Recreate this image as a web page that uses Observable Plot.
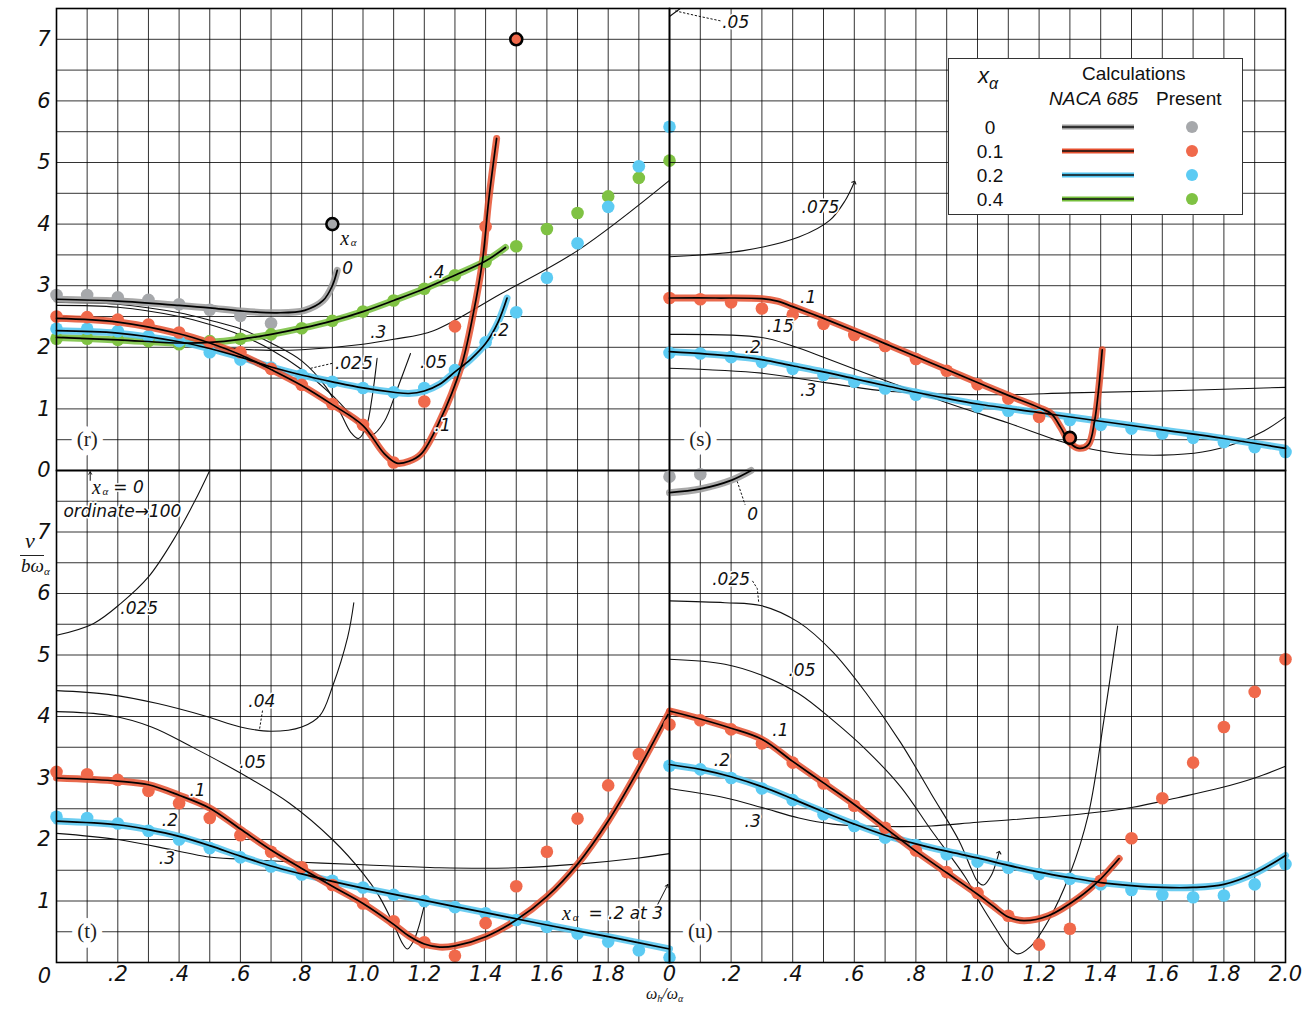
<!DOCTYPE html>
<html><head><meta charset="utf-8">
<script src="https://cdn.jsdelivr.net/npm/d3@7"></script>
<script src="https://cdn.jsdelivr.net/npm/@observablehq/plot@0.6"></script>
<style>
body{margin:0;background:#fff;}
#wrap{position:relative;width:1313px;height:1009px;overflow:hidden;background:#fff;font-family:"Liberation Sans",Arial,sans-serif;color:#111;}
#wrap svg{position:absolute;overflow:visible;}
.it{position:absolute;font-family:"DejaVu Sans",sans-serif;font-style:italic;font-weight:200;color:#111;white-space:nowrap;}
#legend{position:absolute;left:948px;top:58px;width:293px;height:155px;border:1.5px solid #333;background:#fff;}
#legend div{position:absolute;white-space:nowrap;font-size:19px;}
</style></head><body><div id="wrap"></div>
<script>
// ---------------- data ----------------
// x grid / tick values
const gridXs = [0,0.1,0.2,0.3,0.4,0.5,0.6,0.7,0.8,0.9,1.0,1.1,1.2,1.3,1.4,1.5,1.6,1.7,1.8,1.9,2.0];
const gridYsTop = [0,0.5,1,1.5,2,2.5,3,3.5,4,4.5,5,5.5,6,6.5,7,7.5];
const gridYsBot = [0,0.5,1,1.5,2,2.5,3,3.5,4,4.5,5,5.5,6,6.5,7,7.5,8];
const xTicksLeft = [0.2,0.4,0.6,0.8,1.0,1.2,1.4,1.6,1.8];
const xTickLabelsLeft = [".2",".4",".6",".8","1.0","1.2","1.4","1.6","1.8"];
const xTicksRight = [0,0.2,0.4,0.6,0.8,1.0,1.2,1.4,1.6,1.8,2.0];
const xTickLabelsRight = ["0",".2",".4",".6",".8","1.0","1.2","1.4","1.6","1.8","2.0"];
const yTicksTop = [0,1,2,3,4,5,6,7];
const yTicksBot = [1,2,3,4,5,6,7];
const yTickLabels = ["0","1","2","3","4","5","6","7"];

// panel (r)
const rGrayPts = [[0,2.85],[0.1,2.85],[0.2,2.81],[0.3,2.77],[0.4,2.7],[0.5,2.61],[0.6,2.51],[0.7,2.39]];
const rGrayCurve = [[0,2.78],[0.2,2.75],[0.4,2.68],[0.5,2.64],[0.6,2.59],[0.72,2.56],[0.81,2.6],[0.87,2.76],[0.9,3.0],[0.916,3.25]];
const rRedPts = [[0,2.5],[0.1,2.49],[0.2,2.45],[0.3,2.37],[0.4,2.24],[0.5,2.08],[0.6,1.92],[0.7,1.65],[0.8,1.39],[0.9,1.08],[1.0,0.74],[1.1,0.13],[1.2,1.12],[1.3,2.34],[1.4,3.96]];
const rRedCurve = [[0,2.47],[0.2,2.41],[0.4,2.22],[0.5,2.07],[0.6,1.88],[0.7,1.64],[0.8,1.38],[0.9,1.07],[1.0,0.73],[1.07,0.27],[1.11,0.12],[1.15,0.15],[1.19,0.27],[1.25,0.8],[1.32,1.68],[1.36,2.55],[1.39,3.41],[1.41,4.38],[1.436,5.39]];
const rBluePts = [[0,2.3],[0.1,2.3],[0.2,2.26],[0.3,2.18],[0.4,2.1],[0.5,1.92],[0.6,1.8],[0.7,1.67],[0.8,1.55],[0.9,1.44],[1.0,1.34],[1.1,1.27],[1.2,1.34],[1.3,1.63],[1.4,2.08],[1.5,2.57],[1.6,3.13],[1.7,3.69],[1.8,4.28],[1.9,4.94],[2.0,5.58]];
const rBlueCurve = [[0,2.27],[0.2,2.23],[0.4,2.09],[0.5,1.98],[0.6,1.84],[0.7,1.68],[0.8,1.55],[0.9,1.44],[1.0,1.34],[1.1,1.27],[1.15,1.25],[1.2,1.29],[1.25,1.4],[1.3,1.6],[1.35,1.8],[1.4,2.06],[1.44,2.4],[1.47,2.8]];
const rGreenPts = [[0,2.14],[0.1,2.14],[0.2,2.12],[0.3,2.1],[0.4,2.05],[0.5,2.1],[0.6,2.14],[0.7,2.21],[0.8,2.31],[0.9,2.43],[1.0,2.58],[1.1,2.76],[1.2,2.95],[1.3,3.17],[1.4,3.39],[1.5,3.64],[1.6,3.92],[1.7,4.18],[1.8,4.45],[1.9,4.75],[2.0,5.03]];
const rGreenCurve = [[0,2.16],[0.2,2.12],[0.4,2.07],[0.5,2.08],[0.6,2.13],[0.7,2.21],[0.8,2.31],[0.9,2.43],[1.0,2.58],[1.1,2.76],[1.2,2.95],[1.3,3.17],[1.4,3.4],[1.465,3.62]];
const rThin025 = [[0,2.73],[0.2,2.7],[0.4,2.56],[0.5,2.44],[0.6,2.3],[0.7,2.07],[0.8,1.78],[0.88,1.35],[0.93,0.9],[0.96,0.62],[0.985,0.52],[1.01,0.7],[1.03,1.2],[1.046,1.82]];
const rThin05 = [[0,2.68],[0.2,2.65],[0.4,2.5],[0.5,2.37],[0.6,2.2],[0.7,1.96],[0.8,1.64],[0.9,1.22],[0.96,0.9],[1.0,0.66],[1.03,0.58],[1.07,0.8],[1.11,1.3],[1.155,1.9]];
const rThin3 = [[0,2.18],[0.2,2.12],[0.4,2.05],[0.6,1.97],[0.7,1.95],[0.8,1.96],[1.0,2.05],[1.1,2.13],[1.23,2.27],[1.45,2.87],[1.7,3.57],[2.0,4.71]];
const rGrayOutlined = [[0.9,4.0]];
const rRedOutlined = [[1.5,7.0]];
const rLabels = [{x:0.95,y:3.28,t:"0"},{x:1.24,y:3.21,t:".4"},{x:1.05,y:2.24,t:".3"},{x:0.97,y:1.74,t:".025"},{x:1.23,y:1.75,t:".05"},{x:1.45,y:2.27,t:".2"},{x:1.26,y:0.73,t:".1"}];
const rXaLabels = [{x:0.94,y:3.77}];
const rLeaders = [[[0.83,1.66],[0.9,1.74]]];

// panel (s)
const sRedPts = [[0,2.8],[0.1,2.78],[0.2,2.73],[0.3,2.63],[0.4,2.53],[0.5,2.38],[0.6,2.2],[0.7,2.02],[0.8,1.81],[0.9,1.62],[1.0,1.4],[1.1,1.17],[1.2,0.87]];
const sRedCurve = [[0,2.8],[0.15,2.8],[0.3,2.79],[0.35,2.75],[0.4,2.66],[0.5,2.47],[0.6,2.27],[0.7,2.06],[0.8,1.85],[0.9,1.64],[1.0,1.43],[1.1,1.22],[1.2,1.02],[1.24,0.92],[1.27,0.7],[1.3,0.45],[1.33,0.36],[1.36,0.42],[1.38,0.8],[1.395,1.4],[1.405,1.96]];
const sBluePts = [[0,1.91],[0.1,1.9],[0.2,1.84],[0.3,1.76],[0.4,1.65],[0.5,1.55],[0.6,1.44],[0.7,1.33],[0.8,1.23],[1.0,1.04],[1.1,0.97],[1.2,0.9],[1.3,0.82],[1.4,0.74],[1.5,0.68],[1.6,0.6],[1.7,0.53],[1.8,0.46],[1.9,0.38],[2.0,0.3]];
const sBlueCurve = [[0,1.93],[0.2,1.86],[0.3,1.8],[0.4,1.7],[0.5,1.6],[0.6,1.49],[0.7,1.38],[0.8,1.27],[0.9,1.17],[1.0,1.08],[1.2,0.94],[1.4,0.8],[1.6,0.66],[1.8,0.52],[2.0,0.36]];
const sThin15 = [[0,2.21],[0.3,2.16],[0.4,2.02],[0.5,1.84],[0.7,1.46],[0.9,1.1],[1.1,0.77],[1.3,0.43],[1.45,0.28],[1.6,0.25],[1.73,0.3],[1.85,0.46],[1.93,0.64],[2.0,0.87]];
const sThin3 = [[0,1.66],[0.3,1.58],[0.5,1.43],[0.7,1.29],[0.9,1.24],[1.1,1.23],[1.3,1.26],[1.6,1.29],[2.0,1.35]];
const sThin075 = [[0,3.47],[0.24,3.57],[0.42,3.79],[0.52,4.06],[0.57,4.38],[0.6,4.68]];
const sThin05 = [[0,7.37],[0.035,7.5]];
const sRedOutlined = [[1.3,0.53]];
const sLabels = [{x:0.215,y:7.27,t:".05"},{x:0.49,y:4.27,t:".075"},{x:0.45,y:2.8,t:".1"},{x:0.36,y:2.34,t:".15"},{x:0.27,y:2.0,t:".2"},{x:0.45,y:1.3,t:".3"}];
const sLeaders = [[[0.02,7.46],[0.09,7.38],[0.165,7.3]]];

// panel (t)
const tRedPts = [[0,3.1],[0.1,3.06],[0.2,2.97],[0.3,2.79],[0.4,2.59],[0.5,2.35],[0.6,2.07],[0.7,1.8],[0.8,1.55],[0.9,1.26],[1.0,0.96],[1.1,0.67],[1.2,0.33],[1.3,0.11],[1.4,0.64],[1.5,1.24],[1.6,1.8],[1.7,2.34],[1.8,2.88],[1.9,3.39]];
const tRedCurve = [[0,3.0],[0.2,2.95],[0.3,2.89],[0.4,2.72],[0.5,2.51],[0.6,2.17],[0.7,1.83],[0.8,1.53],[0.9,1.24],[1.0,0.96],[1.1,0.62],[1.15,0.43],[1.2,0.3],[1.25,0.25],[1.3,0.27],[1.4,0.42],[1.5,0.69],[1.6,1.07],[1.7,1.6],[1.8,2.3],[1.9,3.15],[2.0,4.08]];
const tBluePts = [[0,2.37],[0.1,2.35],[0.2,2.26],[0.3,2.14],[0.4,2.0],[0.5,1.86],[0.6,1.71],[0.7,1.56],[0.8,1.43],[0.9,1.33],[1.0,1.22],[1.1,1.1],[1.2,1.0],[1.3,0.9],[1.4,0.8],[1.5,0.69],[1.6,0.58],[1.7,0.47],[1.8,0.34],[1.9,0.2],[2.0,0.08]];
const tBlueCurve = [[0,2.3],[0.2,2.24],[0.3,2.16],[0.4,2.05],[0.5,1.9],[0.6,1.73],[0.7,1.57],[0.8,1.44],[0.9,1.32],[1.0,1.21],[1.2,1.01],[1.4,0.81],[1.6,0.61],[1.8,0.42],[2.0,0.22]];
const tThin025 = [[0,5.32],[0.12,5.51],[0.21,5.84],[0.3,6.27],[0.38,6.86],[0.45,7.49],[0.5,8.0]];
const tThin04 = [[0,4.42],[0.17,4.36],[0.33,4.21],[0.49,4.0],[0.6,3.83],[0.7,3.76],[0.8,3.83],[0.86,4.02],[0.9,4.48],[0.95,5.29],[0.97,5.85]];
const tThin05 = [[0,4.08],[0.17,4.02],[0.31,3.83],[0.44,3.51],[0.6,3.08],[0.76,2.59],[0.9,2.0],[1.0,1.45],[1.05,1.1],[1.1,0.62],[1.13,0.3],[1.145,0.22],[1.165,0.35],[1.18,0.55],[1.2,0.93]];
const tThin3 = [[0,2.1],[0.2,2.0],[0.38,1.83],[0.49,1.72],[0.6,1.68],[0.8,1.63],[1.0,1.59],[1.25,1.54],[1.5,1.54],[1.7,1.6],[1.9,1.7],[2.0,1.77]];
const tLabels = [{x:0.27,y:5.75,t:".025"},{x:0.67,y:4.25,t:".04"},{x:0.64,y:3.25,t:".05"},{x:0.46,y:2.79,t:".1"},{x:0.37,y:2.31,t:".2"},{x:0.36,y:1.69,t:".3"},{x:0.235,y:7.72,t:"= 0"},{x:0.215,y:7.33,t:"ordinate→100"},{x:1.857,y:0.8,t:"= .2 at 3"}];
const tXaLabels = [{x:0.13,y:7.72},{x:1.664,y:0.8}];
const tLeaders = [[[0.672,4.09],[0.662,3.78]]];
const tArrows = [{x1:0.11,y1:7.84,x2:0.11,y2:7.98},{x1:1.955,y1:0.88,x2:1.995,y2:1.27}];

// panel (u)
const uRedPts = [[0,3.87],[0.1,3.94],[0.2,3.79],[0.3,3.56],[0.4,3.25],[0.5,2.91],[0.6,2.55],[0.7,2.19],[0.8,1.82],[0.9,1.47],[1.0,1.13],[1.1,0.76],[1.2,0.29],[1.3,0.55],[1.4,1.33],[1.5,2.02],[1.6,2.67],[1.7,3.25],[1.8,3.83],[1.9,4.4],[2.0,4.93]];
const uRedCurve = [[0,4.09],[0.1,3.96],[0.2,3.81],[0.3,3.63],[0.4,3.27],[0.5,2.92],[0.6,2.57],[0.7,2.19],[0.8,1.81],[0.9,1.46],[1.0,1.11],[1.05,0.92],[1.1,0.74],[1.15,0.68],[1.23,0.76],[1.33,1.06],[1.4,1.36],[1.46,1.69]];
const uBluePts = [[0,3.2],[0.1,3.14],[0.2,3.0],[0.3,2.83],[0.4,2.64],[0.5,2.41],[0.6,2.22],[0.7,2.03],[0.8,1.91],[0.9,1.76],[1.0,1.64],[1.1,1.54],[1.2,1.44],[1.3,1.36],[1.4,1.27],[1.5,1.18],[1.6,1.1],[1.7,1.06],[1.8,1.09],[1.9,1.27],[2.0,1.6]];
const uBlueCurve = [[0,3.22],[0.1,3.14],[0.2,3.02],[0.3,2.86],[0.4,2.66],[0.5,2.45],[0.6,2.25],[0.7,2.07],[0.8,1.93],[0.9,1.81],[1.0,1.7],[1.1,1.58],[1.2,1.47],[1.3,1.38],[1.4,1.3],[1.5,1.25],[1.6,1.22],[1.7,1.22],[1.8,1.27],[1.9,1.45],[2.0,1.74]];
const uGrayPts = [[0,7.9],[0.1,7.94]];
const uGrayCurve = [[0,7.64],[0.1,7.7],[0.2,7.84],[0.265,8.0]];
const uThin025 = [[0,5.88],[0.18,5.85],[0.3,5.8],[0.42,5.53],[0.53,5.05],[0.64,4.37],[0.75,3.58],[0.85,2.74],[0.94,1.98],[0.98,1.52],[1.0,1.32],[1.02,1.26],[1.045,1.42],[1.06,1.62],[1.07,1.79]];
const uThin05 = [[0,4.93],[0.18,4.85],[0.3,4.67],[0.42,4.37],[0.53,3.94],[0.64,3.45],[0.75,2.86],[0.85,2.15],[0.96,1.39],[1.01,0.95],[1.06,0.55],[1.1,0.25],[1.13,0.14],[1.17,0.25],[1.23,0.68],[1.3,1.44],[1.36,2.41],[1.41,3.93],[1.455,5.47]];
const uThin3 = [[0,2.83],[0.18,2.68],[0.3,2.52],[0.42,2.35],[0.53,2.25],[0.64,2.22],[0.75,2.21],[0.85,2.22],[1.0,2.28],[1.33,2.41],[1.5,2.52],[1.65,2.68],[1.79,2.84],[1.9,3.0],[2.0,3.19]];
const uLabels = [{x:0.27,y:7.29,t:"0"},{x:0.2,y:6.23,t:".025"},{x:0.43,y:4.74,t:".05"},{x:0.36,y:3.77,t:".1"},{x:0.17,y:3.28,t:".2"},{x:0.27,y:2.3,t:".3"}];
const uLeaders = [[[0.27,6.2],[0.285,6.08],[0.29,5.84]],[[0.22,7.82],[0.245,7.45]]];

const panelTags = [{t:"(r)"},{t:"(s)"},{t:"(t)"},{t:"(u)"}];
const legendKeys = ["0","0.1","0.2","0.4"];

// ---------------- style ----------------
const C = {gray:"#a6a8ab", red:"#f0694b", blue:"#5ccbf3", green:"#7fc243"};
const B = {gray:"#9a9a9a", red:"#e5502f", blue:"#52c4ef", green:"#76bf3c"};
const FT = "'DejaVu Sans', sans-serif";
const FX = "'Liberation Serif', 'DejaVu Serif', serif";
const LX = d => d[0], LY = d => d[1];

const thin = (data, o = {}) => Plot.line(data, {x: LX, y: LY, curve: "catmull-rom", stroke: "#111", strokeWidth: 1.1, ...o});
const band = (data, k) => Plot.line(data, {x: LX, y: LY, curve: "catmull-rom", stroke: B[k], strokeWidth: 7, strokeOpacity: 0.85, strokeLinecap: "round", strokeLinejoin: "round"});
const core = (data) => thin(data, {stroke: "#000", strokeWidth: 1.7});
const dots = (data, k) => Plot.dot(data, {x: LX, y: LY, r: 6.3, fill: C[k]});
const outl = (data, k) => Plot.dot(data, {x: LX, y: LY, r: 6, fill: C[k], stroke: "#000", strokeWidth: 2.6});
const labs = (data) => Plot.text(data, {x: "x", y: "y", text: "t", fontSize: 17, fontStyle: "italic", fontFamily: FT, fontWeight: 200, fill: "#111", stroke: "white", strokeWidth: 3, paintOrder: "stroke"});
const xa = (data) => [
  Plot.text(data, {x: "x", y: "y", text: () => "x", fontSize: 20, fontStyle: "italic", fontFamily: FX, fill: "#111", stroke: "white", strokeWidth: 3, paintOrder: "stroke"}),
  Plot.text(data, {x: "x", y: "y", text: () => "α", dx: 9, dy: 4, fontSize: 11, fontStyle: "italic", fontFamily: FX, fill: "#111"})
];
const leaders = (arr) => arr.map(a => thin(a, {curve: "linear", strokeWidth: 1, strokeDasharray: "1.5,2.5"}));
const tag = (i) => Plot.text([panelTags[i]], {x: () => 0.1, y: () => 0.5, text: "t", fontSize: 21, fontFamily: FX, fill: "#222", stroke: "white", strokeWidth: 12, paintOrder: "stroke"});
const grid = (ys) => [
  Plot.gridX({ticks: gridXs, stroke: "#000", strokeOpacity: 0.8, strokeWidth: 1}),
  Plot.gridY({ticks: ys, stroke: "#000", strokeOpacity: 0.8, strokeWidth: 1})
];
const lookup = (ticks, labels) => d => labels[ticks.indexOf(d)];
const tickText = {fontSize: 21, fontStyle: "italic", fontFamily: FT, fontWeight: 200, fill: "#111"};

const wrap = document.getElementById("wrap");
function panel(pos, ydomain, marks) {
  const svg = Plot.plot({
    width: pos.w, height: pos.h,
    marginLeft: pos.ml, marginRight: pos.mr, marginTop: pos.mt, marginBottom: pos.mb,
    x: {domain: [0, 2], axis: pos.xaxis ? undefined : null},
    y: {domain: ydomain, axis: pos.yaxis ? undefined : null},
    style: {background: "transparent", overflow: "visible"},
    marks
  });
  svg.style.position = "absolute";
  svg.style.left = pos.left + "px";
  svg.style.top = pos.top + "px";
  wrap.appendChild(svg);
}

// (r)
panel({left: 0, top: 0, w: 669, h: 470, ml: 56, mr: 0, mt: 8, mb: 0, yaxis: true}, [0, 7.5], [
  ...grid(gridYsTop),
  thin(rThin025), thin(rThin05), thin(rThin3),
  ...leaders(rLeaders),
  band(rGrayCurve, "gray"), band(rGreenCurve, "green"), band(rBlueCurve, "blue"), band(rRedCurve, "red"),
  dots(rGrayPts, "gray"), dots(rGreenPts, "green"), dots(rBluePts, "blue"), dots(rRedPts, "red"),
  core(rGrayCurve), core(rGreenCurve), core(rBlueCurve), core(rRedCurve),
  outl(rGrayOutlined, "gray"), outl(rRedOutlined, "red"),
  labs(rLabels), ...xa(rXaLabels), tag(0),
  Plot.frame({stroke: "#000", strokeWidth: 1.6}),
  Plot.axisY({ticks: yTicksTop, tickFormat: lookup(yTicksTop, yTickLabels), tickSize: 0, tickPadding: 6, label: null, ...tickText})
]);

// (s)
panel({left: 669, top: 0, w: 644, h: 470, ml: 0, mr: 28, mt: 8, mb: 0}, [0, 7.5], [
  ...grid(gridYsTop),
  thin(sThin15), thin(sThin3), thin(sThin075, {markerEnd: "arrow"}), thin(sThin05),
  ...leaders(sLeaders),
  band(sBlueCurve, "blue"), band(sRedCurve, "red"),
  dots(sBluePts, "blue"), dots(sRedPts, "red"),
  core(sBlueCurve), core(sRedCurve),
  outl(sRedOutlined, "red"),
  labs(sLabels), tag(1),
  Plot.frame({stroke: "#000", strokeWidth: 1.6})
]);

// (t)
panel({left: 0, top: 470, w: 669, h: 539, ml: 56, mr: 0, mt: 0, mb: 47, xaxis: true, yaxis: true}, [0, 8], [
  ...grid(gridYsBot),
  thin(tThin025), thin(tThin04), thin(tThin05, {markerEnd: "arrow"}), thin(tThin3),
  ...leaders(tLeaders),
  Plot.arrow(tArrows, {x1: "x1", y1: "y1", x2: "x2", y2: "y2", stroke: "#111", strokeWidth: 1, headLength: 5}),
  band(tBlueCurve, "blue"), band(tRedCurve, "red"),
  dots(tBluePts, "blue"), dots(tRedPts, "red"),
  core(tBlueCurve), core(tRedCurve),
  labs(tLabels), ...xa(tXaLabels), tag(2),
  Plot.frame({stroke: "#000", strokeWidth: 1.6}),
  Plot.axisY({ticks: yTicksBot, tickFormat: lookup(yTicksTop, yTickLabels), tickSize: 0, tickPadding: 6, label: null, ...tickText}),
  Plot.axisX({ticks: xTicksLeft, tickFormat: lookup(xTicksLeft, xTickLabelsLeft), tickSize: 0, tickPadding: 4, label: null, ...tickText}),
  Plot.text([xTickLabelsRight[0]], {x: () => xTicksRight[0], y: () => 0, text: d => d, dx: -12, dy: 14, ...tickText})
]);

// (u)
panel({left: 669, top: 470, w: 644, h: 539, ml: 0, mr: 28, mt: 0, mb: 47, xaxis: true}, [0, 8], [
  ...grid(gridYsBot),
  thin(uThin025, {markerEnd: "arrow"}), thin(uThin05), thin(uThin3),
  ...leaders(uLeaders),
  band(uGrayCurve, "gray"), band(uBlueCurve, "blue"), band(uRedCurve, "red"),
  dots(uGrayPts, "gray"), dots(uBluePts, "blue"), dots(uRedPts, "red"),
  core(uGrayCurve), core(uBlueCurve), core(uRedCurve),
  labs(uLabels), tag(3),
  Plot.frame({stroke: "#000", strokeWidth: 1.6}),
  Plot.axisX({ticks: xTicksRight, tickFormat: lookup(xTicksRight, xTickLabelsRight), tickSize: 0, tickPadding: 4, label: null, ...tickText})
]);

// axis titles
function addDiv(cls, css, html) { const d = document.createElement("div"); d.className = cls; d.style.cssText = css; d.innerHTML = html; wrap.appendChild(d); return d; }
addDiv("it", "left:25px;top:528px;font-size:22px;font-family:'Liberation Serif',serif;font-weight:400;", "v");
addDiv("", "position:absolute;left:20px;top:555px;width:24px;border-top:1.5px solid #222;", "");
addDiv("it", "left:21px;top:555px;font-size:19px;line-height:22px;font-family:'Liberation Serif',serif;font-weight:400;", "bω<span style='font-size:11px;vertical-align:-3px'>α</span>");
addDiv("it", "left:646px;top:985px;font-size:16px;font-family:'Liberation Serif',serif;font-weight:400;", "ω<span style='font-size:10px;vertical-align:-3px'>h</span>/ω<span style='font-size:10px;vertical-align:-3px'>α</span>");

// legend
const lg = document.createElement("div"); lg.id = "legend"; wrap.appendChild(lg);
const L = (css, html) => { const d = document.createElement("div"); d.style.cssText = css; d.innerHTML = html; lg.appendChild(d); };
L("left:29px;top:4px;font-size:22px;font-style:italic;", "x<span style='font-size:16px;vertical-align:-6px'>α</span>");
L("left:133px;top:4px;", "Calculations");
L("left:100px;top:29px;font-style:italic;", "NACA 685");
L("left:207px;top:29px;", "Present");
const keys = ["gray", "red", "blue", "green"];
legendKeys.forEach((k, i) => {
  L(`left:18px;top:${58 + i * 24}px;width:46px;text-align:center;`, k);
  L(`left:113px;top:${68 + i * 24}px;width:72px;height:0;`,
    `<svg width="72" height="8" style="position:absolute;left:0;top:-4px;overflow:visible"><line x1="0" y1="4" x2="72" y2="4" stroke="${B[keys[i]]}" stroke-width="5"/><line x1="0" y1="4" x2="72" y2="4" stroke="#111" stroke-width="1.4"/></svg>`);
  L(`left:237px;top:${62 + i * 24}px;width:12px;height:12px;border-radius:50%;background:${C[keys[i]]};`, "");
});
</script></body></html>
